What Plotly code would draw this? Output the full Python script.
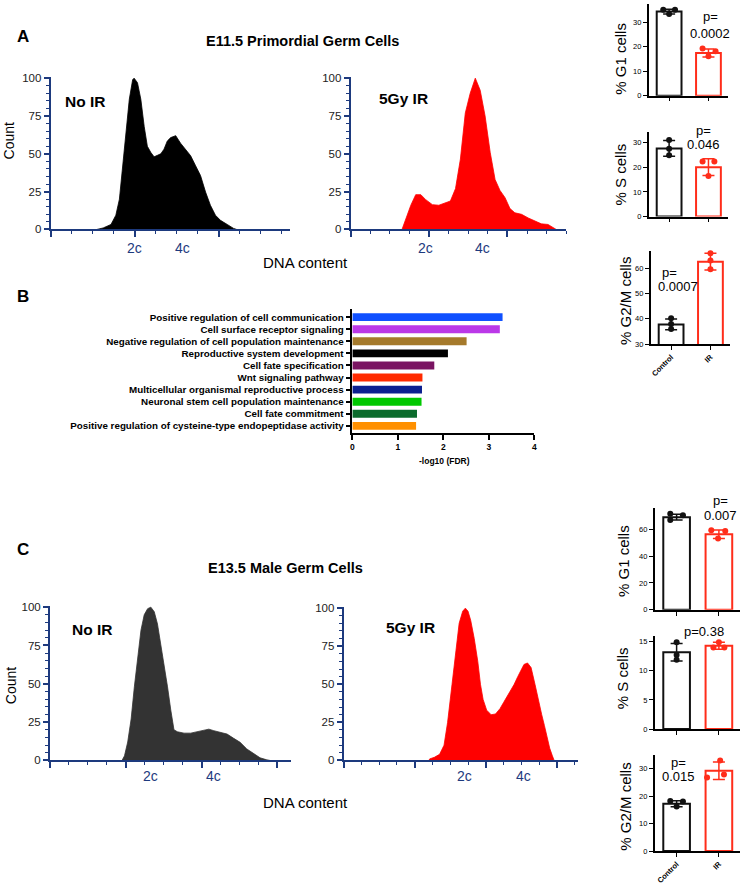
import plotly.graph_objects as go

W, H = 750, 891
FONT = "Arial, Liberation Sans, sans-serif"
NAVY = "#1d3a7e"
RED = "#ff0000"
BRED = "#ff2d1a"

def px(x):
    return x / W

def py(y):
    return 1 - y / H

# ---------------- DATA ----------------
# Panel A histograms (x in axis-tick units, y = count % of max)
a_noir_x = [2.2, 2.5, 2.87, 3.1, 3.27, 3.42, 3.58, 3.74, 3.9, 3.97, 4.13, 4.29, 4.45, 4.6, 4.76, 4.92,
            5.08, 5.24, 5.39, 5.55, 5.71, 5.95, 6.18, 6.42, 6.66, 6.9, 7.13, 7.37, 7.6, 7.84, 8.08,
            8.4, 8.7, 8.85]
a_noir_y = [0, 1, 3.3, 9.4, 20, 40, 62, 86, 99, 100, 97, 86, 68, 55, 51, 48,
            49, 50, 53, 58.5, 60.7, 62, 57, 53, 48.7, 42, 35.6, 24.7, 16, 9.4, 6,
            3.3, 0.7, 0]
a_ir_x = [2.62, 2.82, 3.07, 3.32, 3.58, 3.83, 4.17, 4.5, 4.84, 5.09, 5.35, 5.6, 5.85, 6.1, 6.36,
          6.61, 6.86, 7.12, 7.37, 7.62, 7.88, 8.13, 8.38, 8.72, 9.06, 9.39, 9.73, 10.07, 10.32, 10.49]
a_ir_y = [0, 7, 16, 23, 23, 19.7, 16.4, 16, 17.5, 18.8, 27, 46.5, 77, 90, 100,
          92, 75, 51, 33, 25.8, 21, 13.8, 11, 10, 7.6, 5.9, 3.7, 3.3, 1, 0]

# Panel C histograms
c_noir_x = [3.8, 3.93, 4.1, 4.28, 4.45, 4.62, 4.8, 4.97, 5.15, 5.32, 5.5, 5.67, 5.85, 6.02, 6.2,
            6.37, 6.54, 6.72, 7.07, 7.42, 7.77, 8.12, 8.38, 8.64, 8.99, 9.34, 9.69, 10.03, 10.38,
            10.73, 11.08, 11.43, 11.6]
c_noir_y = [0, 3, 12, 27, 48, 68, 85, 95, 99, 100, 97, 89, 76, 63, 48,
            33, 20, 18.7, 17.8, 17.8, 18.7, 19.8, 20.4, 19.4, 18.3, 17.2, 14.4, 11.8, 7.5,
            4.3, 1.7, 0.4, 0]
c_ir_x = [4.8, 4.84, 5.1, 5.4, 5.65, 5.85, 6.1, 6.3, 6.5, 6.7, 6.85, 7.0, 7.15, 7.35, 7.55, 7.7,
          7.85, 8.05, 8.3, 8.55, 8.8, 9.0, 9.2, 9.4, 9.6, 9.8, 10.0, 10.15, 10.35, 10.55, 10.77,
          10.95, 11.15, 11.3, 11.45, 11.6, 11.75, 11.85]
c_ir_y = [0, 1, 2, 4, 10, 25, 50, 72, 90, 98, 100, 98, 92, 80, 65, 50,
          40, 33, 30, 30.5, 34, 38, 42, 46, 50, 55, 60, 63, 64, 61, 50,
          40, 30, 23, 15, 8, 3, 0]

# Panel B: GO enrichment
go_terms = ["Positive regulation of cell communication",
            "Cell surface receptor signaling",
            "Negative regulation of cell population maintenance",
            "Reproductive system development",
            "Cell fate specification",
            "Wnt signaling pathway",
            "Multicellular organismal reproductive process",
            "Neuronal stem cell population maintenance",
            "Cell fate commitment",
            "Positive regulation of cysteine-type endopeptidase activity"]
go_fdr = [3.30, 3.24, 2.51, 2.10, 1.80, 1.54, 1.53, 1.52, 1.42, 1.40]
go_colors = ["#1050ff", "#bb38e8", "#a57a2c", "#000000", "#7a1462",
             "#ff2a00", "#0b1f90", "#00c800", "#0b6b2c", "#ff9000"]

groups = ["Control", "IR"]

# Cell-cycle bars: (bar means, SDs, replicate points)
a_g1_mean = [34.3, 17.4]; a_g1_sd = [1.0, 1.6]
a_g1_ctrl = [35.1, 35.1, 33.3]; a_g1_ir = [19.2, 18.1, 16.1]
a_s_mean = [27.6, 20.0]; a_s_sd = [3.2, 3.4]
a_s_ctrl = [31.0, 27.5, 24.8]; a_s_ir = [22.3, 22.3, 16.4]
a_g2_mean = [37.8, 62.6]; a_g2_sd = [2.1, 3.3]
a_g2_ctrl = [40.2, 38.0, 36.0]; a_g2_ir = [65.9, 63.0, 59.6]

c_g1_mean = [68.9, 56.2]; c_g1_sd = [2.2, 3.2]
c_g1_ctrl = [71.5, 70.3, 66.8]; c_g1_ir = [59.2, 58.5, 53.0]
c_s_mean = [13.2, 14.3]; c_s_sd = [1.5, 0.6]
c_s_ctrl = [14.9, 12.7, 11.9]; c_s_ir = [14.9, 14.0, 14.0]
c_g2_mean = [17.2, 29.2]; c_g2_sd = [1.1, 3.2]
c_g2_ctrl = [18.2, 18.0, 16.2]; c_g2_ir = [33.0, 27.9, 26.8]

# ---------------- FIGURE ----------------
fig = go.Figure()
layout_axes = {}
annotations = []


def ann(text, x, y, size=13, bold=False, color="#000", angle=0, xanchor="center", yanchor="middle"):
    annotations.append(dict(text=text, x=px(x), y=py(y), xref="paper", yref="paper",
                            showarrow=False, textangle=angle, xanchor=xanchor, yanchor=yanchor,
                            font=dict(family=FONT, size=size, color=color,
                                      weight="bold" if bold else "normal")))


def hist_panel(n, xs, ys, fill, x0, x1, y0, y100, xmax, majors, c2, c4, lab_y, label, lab_x, lab_yy):
    sfx = "" if n == 1 else str(n)
    fig.add_trace(go.Scatter(x=xs, y=ys, mode="lines", fill="tozeroy", fillcolor=fill,
                             line=dict(color=fill, width=0.8), xaxis="x" + sfx, yaxis="y" + sfx,
                             showlegend=False, hoverinfo="skip"))
    scale = (y0 - y100) / 100.0
    top = y0 - 101 * scale
    layout_axes["xaxis" + sfx] = dict(domain=[px(x0), px(x1)], range=[0, xmax], anchor="y" + sfx,
                                      showline=True, linecolor=NAVY, linewidth=2, showgrid=False,
                                      zeroline=False, ticks="outside", tickvals=majors, ticklen=6,
                                      tickwidth=1.5, tickcolor=NAVY, showticklabels=False,
                                      minor=dict(tickvals=list(range(0, int(xmax) + 1)), ticks="outside",
                                                 ticklen=3, tickwidth=1.2, tickcolor=NAVY, showgrid=False))
    layout_axes["yaxis" + sfx] = dict(domain=[py(y0), py(top)], range=[0, 101], anchor="x" + sfx,
                                      showline=True, linecolor=NAVY, linewidth=2, showgrid=False,
                                      zeroline=False, ticks="outside", tickvals=[0, 25, 50, 75, 100],
                                      ticklen=5, tickwidth=1.5, tickcolor=NAVY,
                                      tickfont=dict(family=FONT, size=11.5, color="#222"),
                                      minor=dict(dtick=5, ticks="outside", ticklen=3, tickwidth=1,
                                                 tickcolor=NAVY, showgrid=False))
    unit = (x1 - x0) / xmax
    ann("2c", x0 + c2 * unit, lab_y, size=14, color=NAVY)
    ann("4c", x0 + c4 * unit, lab_y, size=14, color=NAVY)
    ann(label, lab_x, lab_yy, size=15.5, bold=True)


hist_panel(1, a_noir_x, a_noir_y, "#000000", 49, 290, 228, 75, 11.39, [0, 4, 8], 3.97, 6.26, 247,
           "No IR", 84, 98.5)
hist_panel(2, a_ir_x, a_ir_y, RED, 351, 568, 228, 75, 11.0, [0, 4, 8], 3.8, 6.75, 247,
           "5Gy IR", 404, 96)
hist_panel(4, c_noir_x, c_noir_y, "#333333", 48.3, 290.7, 765, 610, 12.7, [0, 4, 8, 12], 5.32, 8.64,
           781, "No IR", 91, 632.5)
hist_panel(5, c_ir_x, c_ir_y, RED, 344, 580, 765, 611, 13.2, [0, 4, 8, 12], 6.8, 10.1,
           781, "5Gy IR", 411, 631)

# Panel B
fig.add_trace(go.Bar(y=go_terms, x=go_fdr, orientation="h", marker=dict(color=go_colors, line=dict(width=0)),
                     width=0.65, xaxis="x3", yaxis="y3", showlegend=False, hoverinfo="skip"))
layout_axes["xaxis3"] = dict(domain=[px(352.7), px(536)], range=[0, 4], anchor="y3", showline=True,
                             linecolor="#000", linewidth=1.5, showgrid=False, zeroline=False,
                             ticks="outside", tickvals=[0, 1, 2, 3, 4], ticklen=5, tickwidth=1.5,
                             tickcolor="#000", tickfont=dict(family=FONT, size=8.5, color="#000", weight="bold"))
layout_axes["yaxis3"] = dict(domain=[py(434), py(308)], type="category", range=[9.6, -0.71], anchor="x3",
                             showline=True, linecolor="#000", linewidth=1.5, showgrid=False, zeroline=False,
                             ticks="outside", ticklen=5, tickwidth=1.5, tickcolor="#000",
                             tickfont=dict(family=FONT, size=9.8, color="#000", weight="bold"))
ann("-log10 (FDR)", 445, 462, size=8.5, bold=True)


def bar_panel(n, means, sds, ctrl, ir, jc, ji, x0, x1, y0, ytop, yr, yticks, xlabels):
    sfx = str(n)
    for i, (col, pts, jit) in enumerate([("#111111", ctrl, jc), (BRED, ir, ji)]):
        fig.add_trace(go.Bar(x=[i], y=[means[i]], width=0.63, marker=dict(color="white", line=dict(color=col, width=2)),
                             error_y=dict(type="data", array=[sds[i]], color=col, thickness=1.5, width=6),
                             xaxis="x" + sfx, yaxis="y" + sfx, showlegend=False, hoverinfo="skip"))
        fig.add_trace(go.Scatter(x=[i + j for j in jit], y=pts, mode="markers",
                                 marker=dict(color=col, size=6), cliponaxis=False,
                                 xaxis="x" + sfx, yaxis="y" + sfx, showlegend=False, hoverinfo="skip"))
    layout_axes["xaxis" + sfx] = dict(domain=[px(x0), px(x1)], range=[-0.52, 1.5], anchor="y" + sfx,
                                      showline=True, linecolor="#000", linewidth=1.5, showgrid=False,
                                      zeroline=False, ticks="outside", tickvals=[0, 1], ticktext=groups,
                                      ticklen=4, tickwidth=1.2, tickcolor="#000", showticklabels=xlabels,
                                      tickangle=-45,
                                      tickfont=dict(family=FONT, size=7.5, color="#000", weight="bold"))
    layout_axes["yaxis" + sfx] = dict(domain=[py(y0), py(ytop)], range=yr, anchor="x" + sfx,
                                      showline=True, linecolor="#000", linewidth=1.5, showgrid=False,
                                      zeroline=False, ticks="outside", tickvals=yticks, ticklen=4,
                                      tickwidth=1.2, tickcolor="#000",
                                      tickfont=dict(family=FONT, size=7.5, color="#000"))


bar_panel(6, a_g1_mean, a_g1_sd, a_g1_ctrl, a_g1_ir, [-0.15, 0.15, 0.0], [-0.15, 0.18, 0.0],
          651, 731, 92.7, 0, [0, 37.4], [0, 10, 20, 30], False)
bar_panel(7, a_s_mean, a_s_sd, a_s_ctrl, a_s_ir, [0, 0, 0], [-0.15, 0.15, 0.0],
          651, 731, 215, 129.3, [0, 34.3], [0, 10, 20, 30], False)
bar_panel(8, a_g2_mean, a_g2_sd, a_g2_ctrl, a_g2_ir, [0, 0, 0], [0, 0, 0],
          653, 733, 344, 249.3, [30, 67], [30, 40, 50, 60], True)
bar_panel(9, c_g1_mean, c_g1_sd, c_g1_ctrl, c_g1_ir, [-0.15, 0.15, -0.15], [-0.18, 0.15, -0.02],
          657, 743, 612.7, 509.3, [0, 76], [0, 20, 40, 60], False)
bar_panel(10, c_s_mean, c_s_sd, c_s_ctrl, c_s_ir, [0, 0, 0], [0, -0.13, 0.13],
          657, 743, 733.3, 639, [0, 16], [0, 5, 10, 15], False)
bar_panel(11, c_g2_mean, c_g2_sd, c_g2_ctrl, c_g2_ir, [-0.15, 0.15, 0.0], [0.03, 0.12, -0.28],
          657, 743, 856.7, 759.4, [0, 35], [0, 10, 20, 30], True)

# text annotations
ann("A", 21, 33, size=17, bold=True)
ann("B", 21, 296, size=17, bold=True)
ann("C", 21, 552, size=17, bold=True)
ann("E11.5 Primordial Germ Cells", 303, 37, size=14.5, bold=True)
ann("E13.5 Male Germ Cells", 285, 570, size=14.5, bold=True)
ann("Count", 8, 138, size=14, angle=-90)
ann("Count", 9, 689, size=14, angle=-90)
ann("DNA content", 306, 261, size=15)
ann("DNA content", 306, 808, size=15)

ann("p=", 713, 13); ann("0.0002", 713, 29.5)
ann("p=", 706, 127.5); ann("0.046", 706.7, 142)
ann("p=", 662.7, 271.5, xanchor="left"); ann("0.0007", 680.5, 285.5)
ann("p=", 723, 502); ann("0.007", 723, 517)
ann("p=0.38", 706.7, 635)
ann("p=", 681, 767.5); ann("0.015", 681, 781)

ann("% G1 cells", 622.5, 55, size=15, angle=-90)
ann("% S cells", 623, 172.5, size=15, angle=-90)
ann("% G2/M cells", 627.5, 300, size=15, angle=-90)
ann("% G1 cells", 625, 563.5, size=15, angle=-90)
ann("% S cells", 625, 682, size=15, angle=-90)
ann("% G2/M cells", 627.5, 811.5, size=15, angle=-90)

fig.update_layout(width=W, height=H, margin=dict(l=0, r=0, t=0, b=0),
                  paper_bgcolor="white", plot_bgcolor="white",
                  font=dict(family=FONT, color="#000"), annotations=annotations,
                  bargap=0.3, **layout_axes)

fig.write_html("out.html", config={"displayModeBar": False},
               post_script="document.body.style.margin='0px';")
